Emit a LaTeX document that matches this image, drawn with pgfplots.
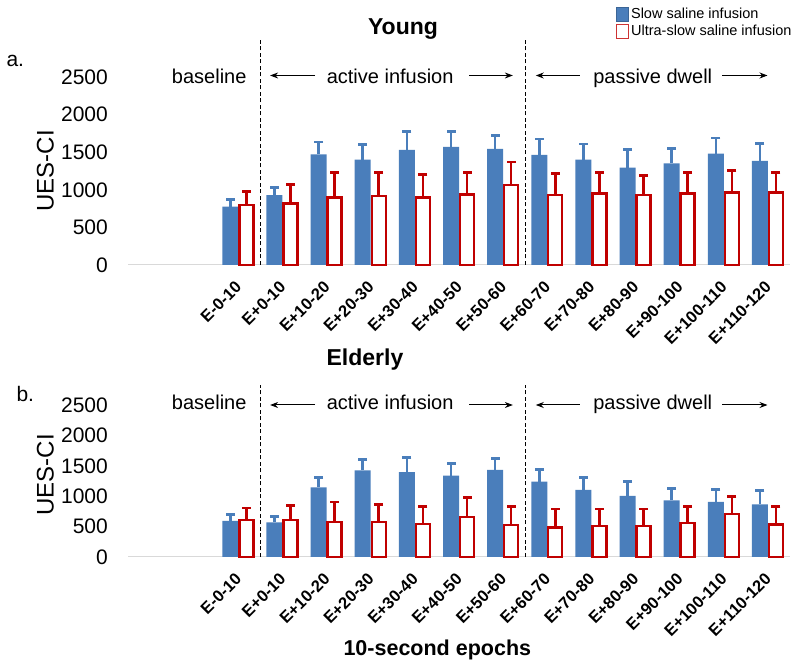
\documentclass[border=0pt]{standalone}
\usepackage{fontspec}
\setmainfont{Liberation Sans}
\usepackage{pgfplots}
\usepackage{pgfplotstable}
\pgfplotsset{compat=1.18}
\usetikzlibrary{arrows.meta}

\definecolor{slowblue}{HTML}{4A7EBB}
\definecolor{ultrared}{HTML}{C00000}

% young, slow saline
\pgfplotstableread{
x y e
0 775 95
1 930 100
2 1470 165
3 1400 200
4 1530 250
5 1570 210
6 1545 180
7 1465 210
8 1400 210
9 1295 240
10 1350 200
11 1480 210
12 1385 235
}\youngslow
% young, ultra-slow saline
\pgfplotstableread{
x y e
0 800 180
1 820 255
2 900 325
3 920 305
4 897 305
5 940 295
6 1060 310
7 930 285
8 950 275
9 930 255
10 950 285
11 965 290
12 965 270
}\youngultra
% elderly, slow saline
\pgfplotstableread{
x y e
0 595 105
1 570 95
2 1145 165
3 1425 180
4 1395 240
5 1340 200
6 1435 185
7 1240 200
8 1105 205
9 1005 240
10 930 200
11 905 210
12 865 235
}\elderslow
% elderly, ultra-slow saline
\pgfplotstableread{
x y e
0 610 195
1 610 240
2 580 325
3 580 290
4 540 295
5 655 320
6 525 310
7 485 305
8 505 285
9 505 285
10 555 280
11 705 295
12 535 290
}\elderultra

\tikzset{
  notes/.style={font=\fontsize{20}{24}\selectfont, anchor=base},
  arr/.style={-{Stealth[length=8pt,width=6pt]}, line width=1pt},
  sep/.style={line width=1.4pt, dash pattern=on 4pt off 2.5pt},
}

% 8pt bar offset in x units (662pt / 15 units)
\def\shift{0.1813}

\pgfplotsset{
  panel/.style={
    scale only axis, width=662pt,
    xmin=-2.5, xmax=12.5, ymin=0, ymax=3000, enlargelimits=false,
    axis line style={draw=none},
    major tick length=0pt,
    ytick={0,500,...,2500},
    xtick={0,...,12},
    xticklabels={E-0-10,E+0-10,E+10-20,E+20-30,E+30-40,E+40-50,E+50-60,E+60-70,E+70-80,E+80-90,E+90-100,E+100-110,E+110-120},
    /pgf/number format/assume math mode=true,
    /pgf/number format/1000 sep={},
    yticklabel style={font=\fontsize{21}{24}\selectfont, inner sep=0pt, xshift=-20pt},
    xticklabel style={font=\fontsize{16.5}{19}\selectfont\bfseries, xshift=-4pt, yshift=-15pt, rotate=45, anchor=north east, inner sep=0pt},
    ylabel={UES-CI},
    clip=false,
  },
  slowbar/.style={ybar, bar width=16pt, bar shift=-8pt, fill=slowblue, draw=none, forget plot},
  ultrabar/.style={ybar, bar width=14pt, bar shift=8pt, fill=white, draw=ultrared, line width=2.4pt, forget plot},
  errs/.style={draw=none, mark=none, forget plot,
    error bars/.cd, y dir=plus, y explicit, error mark=none,
    error bar style={line width=2.6pt, draw=#1, solid}},
  caps/.style={only marks, mark=-, mark size=4.5pt, forget plot,
    mark options={line width=2.8pt, draw=#1, solid}},
}

\begin{document}
\begin{tikzpicture}[x=1pt,y=1pt]
\path[use as bounding box] (0pt,0pt) rectangle (800pt,663pt);

% panel a: young
\begin{axis}[panel, at={(128pt,398pt)}, anchor=south west, height=225.6pt,
  ylabel style={at={(axis description cs:-0.125,0.417)}, rotate=0, anchor=center, font=\fontsize{24}{26}\selectfont},
  legend style={at={(axis description cs:0.737,1.147)}, anchor=north west, draw=none, fill=none,
    font=\fontsize{14.5}{17}\selectfont, row sep=1pt, inner sep=0pt, cells={anchor=west}},
  legend image code/.code={\filldraw (0pt,-7pt) rectangle (12pt,7pt);},
]
\draw[black!15, line width=1pt] (axis cs:-2.5,0) -- (axis cs:12.5,0);
\addplot[errs=slowblue] table[x expr=\thisrow{x}-\shift, y=y, y error=e] {\youngslow};
\addplot[errs=ultrared] table[x expr=\thisrow{x}+\shift, y=y, y error=e] {\youngultra};
\addplot[caps=slowblue] table[x expr=\thisrow{x}-\shift, y expr=\thisrow{y}+\thisrow{e}] {\youngslow};
\addplot[caps=ultrared] table[x expr=\thisrow{x}+\shift, y expr=\thisrow{y}+\thisrow{e}] {\youngultra};
\addplot[slowbar] table[x=x, y=y] {\youngslow};
\addplot[ultrabar] table[x=x, y=y] {\youngultra};
\addlegendimage{fill=slowblue, draw=slowblue!80!black, line width=0.4pt}
\addlegendentry{Slow saline infusion}
\addlegendimage{fill=white, draw=ultrared!80, line width=1pt}
\addlegendentry{Ultra-slow saline infusion}
\draw[sep] (axis cs:0.5,0) -- (axis cs:0.5,3000);
\draw[sep] (axis cs:6.5,0) -- (axis cs:6.5,3000);
\node[notes] at (axis cs:-0.66,2420) {baseline};
\draw[arr] (axis cs:1.74,2520) -- (axis cs:0.72,2520);
\node[notes] at (axis cs:3.44,2420) {active infusion};
\draw[arr] (axis cs:5.23,2520) -- (axis cs:6.22,2520);
\draw[arr] (axis cs:7.74,2520) -- (axis cs:6.74,2520);
\node[notes] at (axis cs:9.39,2420) {passive dwell};
\draw[arr] (axis cs:10.97,2520) -- (axis cs:11.99,2520);
\end{axis}

% panel b: elderly
\begin{axis}[panel, at={(128pt,106pt)}, anchor=south west, height=182.4pt,
  ylabel style={at={(axis description cs:-0.125,0.45)}, rotate=0, anchor=center, font=\fontsize{24}{26}\selectfont},
]
\draw[black!15, line width=1pt] (axis cs:-2.5,0) -- (axis cs:12.5,0);
\addplot[errs=slowblue] table[x expr=\thisrow{x}-\shift, y=y, y error=e] {\elderslow};
\addplot[errs=ultrared] table[x expr=\thisrow{x}+\shift, y=y, y error=e] {\elderultra};
\addplot[caps=slowblue] table[x expr=\thisrow{x}-\shift, y expr=\thisrow{y}+\thisrow{e}] {\elderslow};
\addplot[caps=ultrared] table[x expr=\thisrow{x}+\shift, y expr=\thisrow{y}+\thisrow{e}] {\elderultra};
\addplot[slowbar] table[x=x, y=y] {\elderslow};
\addplot[ultrabar] table[x=x, y=y] {\elderultra};
\draw[sep] (axis cs:0.5,0) -- (axis cs:0.5,2830);
\draw[sep] (axis cs:6.5,0) -- (axis cs:6.5,2830);
\node[notes] at (axis cs:-0.66,2420) {baseline};
\draw[arr] (axis cs:1.74,2500) -- (axis cs:0.72,2500);
\node[notes] at (axis cs:3.44,2420) {active infusion};
\draw[arr] (axis cs:5.23,2500) -- (axis cs:6.22,2500);
\draw[arr] (axis cs:7.74,2500) -- (axis cs:6.74,2500);
\node[notes] at (axis cs:9.39,2420) {passive dwell};
\draw[arr] (axis cs:10.97,2500) -- (axis cs:11.99,2500);
\end{axis}

\node[anchor=base, font=\fontsize{23}{26}\selectfont\bfseries] at (403pt,628pt) {Young};
\node[anchor=base, font=\fontsize{23}{26}\selectfont\bfseries] at (365pt,297pt) {Elderly};
\node[anchor=base west, font=\fontsize{21}{24}\selectfont] at (3pt,596pt) {a.};
\node[anchor=base west, font=\fontsize{21}{24}\selectfont] at (13pt,261pt) {b.};
\node[anchor=base west, font=\fontsize{21.5}{24}\selectfont\bfseries] at (340pt,7pt) {10-second epochs};
\end{tikzpicture}
\end{document}
